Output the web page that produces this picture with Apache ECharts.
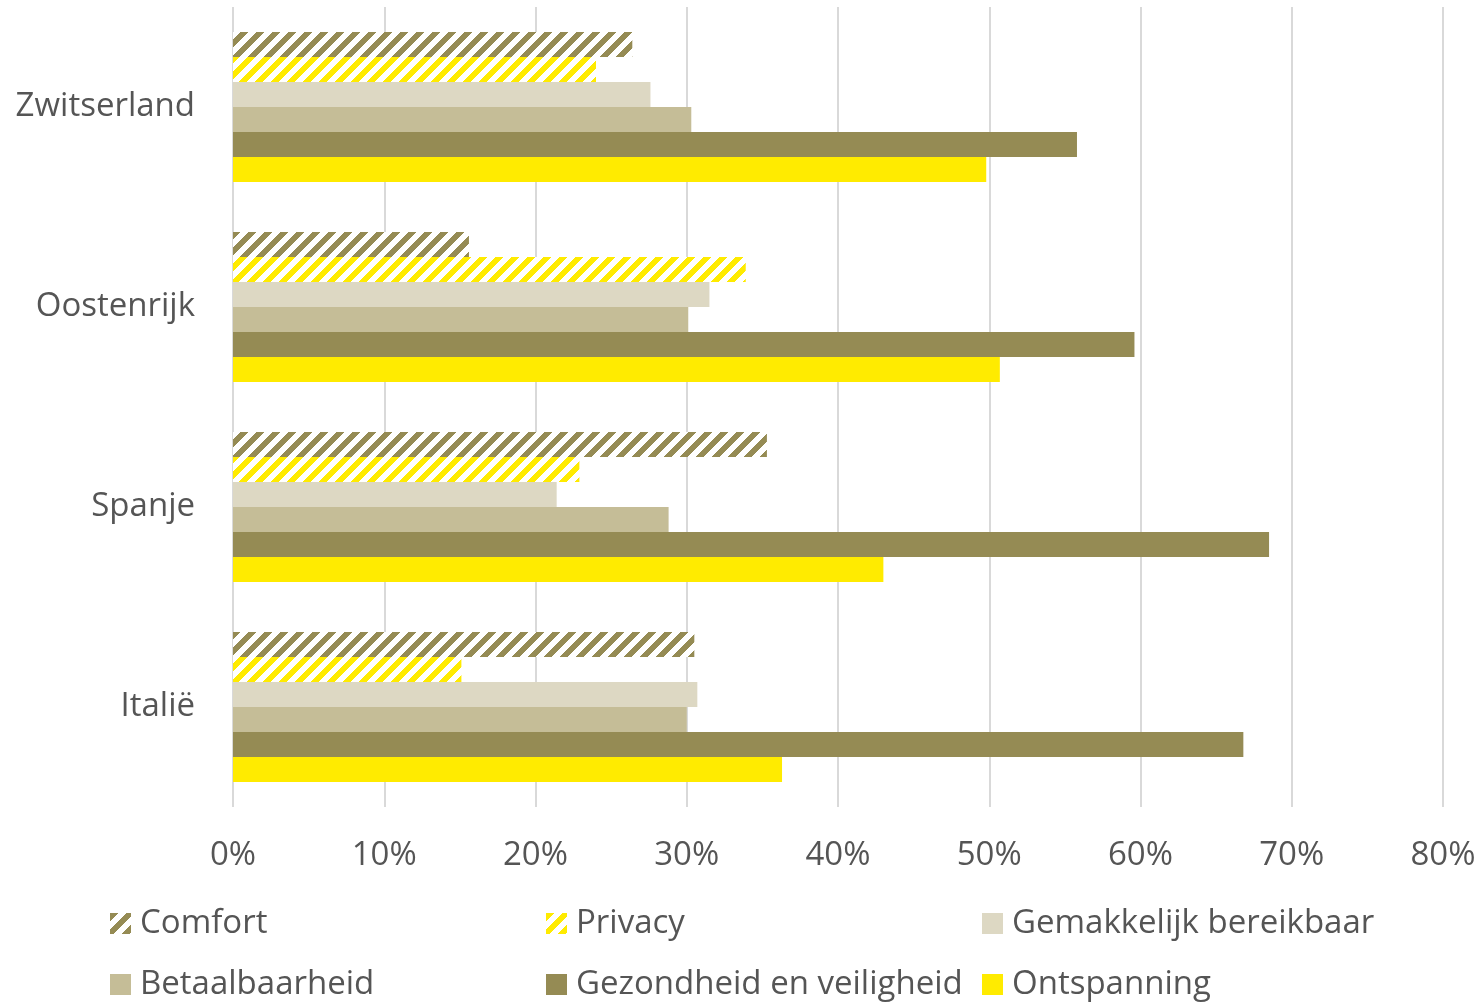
<!DOCTYPE html>
<html>
<head>
<meta charset="utf-8">
<script src="https://cdn.jsdelivr.net/npm/echarts@6/dist/echarts.min.js"></script>
<style>
html,body{margin:0;padding:0;background:#fff;}
#chart{width:1481px;height:1002px;}
</style>
</head>
<body>
<div id="chart"></div>
<script>
// Categories (bottom to top on the y axis)
const categories = ['Italië', 'Spanje', 'Oostenrijk', 'Zwitserland'];
// Series values in % (same order as categories)
const comfort = [30.5, 35.3, 15.6, 26.4];
const privacy = [15.1, 22.9, 33.9, 24.0];
const gemakkelijk = [30.7, 21.4, 31.5, 27.6];
const betaalbaarheid = [30.0, 28.8, 30.1, 30.3];
const gezondheid = [66.8, 68.5, 59.6, 55.8];
const ontspanning = [36.3, 43.0, 50.7, 49.8];
const seriesNames = ['Comfort', 'Privacy', 'Gemakkelijk bereikbaar', 'Betaalbaarheid', 'Gezondheid en veiligheid', 'Ontspanning'];
const xTicks = [0, 10, 20, 30, 40, 50, 60, 70, 80];

const OLIVE = '#958B54', YELLOW = '#FFEB00', TAN = '#C5BD97', BEIGE = '#DDD8C3';
const TEXT = '#555555';
const FONT = '"Open Sans", sans-serif';

function hatch(color) {
  const c = document.createElement('canvas');
  c.width = 16; c.height = 16;
  const ctx = c.getContext('2d');
  ctx.fillStyle = '#ffffff';
  ctx.fillRect(0, 0, 16, 16);
  ctx.fillStyle = color;
  for (let y = 0; y < 16; y++) {
    for (let x = 0; x < 16; x++) {
      if ((x + y) % 16 < 8) ctx.fillRect(x, y, 1, 1);
    }
  }
  return { image: c, repeat: 'repeat' };
}

const colors = [hatch(OLIVE), hatch(YELLOW), BEIGE, TAN, OLIVE, YELLOW];
const dataArr = [comfort, privacy, gemakkelijk, betaalbaarheid, gezondheid, ontspanning];

const chart = echarts.init(document.getElementById('chart'));

const legendPos = [
  { left: 110, top: 907 }, { left: 546, top: 907 }, { left: 982, top: 907 },
  { left: 110, top: 968 }, { left: 546, top: 968 }, { left: 982, top: 968 }
];

const legends = seriesNames.map((n, i) => ({
  data: [n],
  left: legendPos[i].left,
  top: legendPos[i].top,
  padding: 0,
  itemWidth: 21,
  itemHeight: 21,
  icon: 'rect',
  selectedMode: false,
  textStyle: { fontFamily: FONT, fontSize: 33, color: TEXT, lineHeight: 33, padding: [0, 0, 0, 4] }
}));

const series = seriesNames.map((n, i) => ({
  name: n,
  type: 'bar',
  data: dataArr[i],
  barGap: '0%',
  barCategoryGap: '25%',
  itemStyle: { color: colors[i] },
  emphasis: { disabled: true }
}));

chart.setOption({
  animation: false,
  backgroundColor: '#ffffff',
  grid: { left: 233, right: 38, top: 7, bottom: 195, containLabel: false },
  legend: legends,
  xAxis: {
    type: 'value',
    min: 0, max: 80, interval: 10,
    axisLine: { show: false },
    axisTick: { show: false },
    splitLine: { lineStyle: { color: '#D9D9D9', width: 2 } },
    axisLabel: {
      formatter: v => xTicks.indexOf(v) >= 0 ? v + '%' : '',
      fontFamily: FONT, fontSize: 33, color: TEXT, margin: 32
    }
  },
  yAxis: {
    type: 'category',
    data: categories,
    axisLine: { show: false },
    axisTick: { show: false },
    axisLabel: { fontFamily: FONT, fontSize: 33, color: TEXT, margin: 38, padding: [6, 0, 0, 0] }
  },
  series: series
});
</script>
</body>
</html>
